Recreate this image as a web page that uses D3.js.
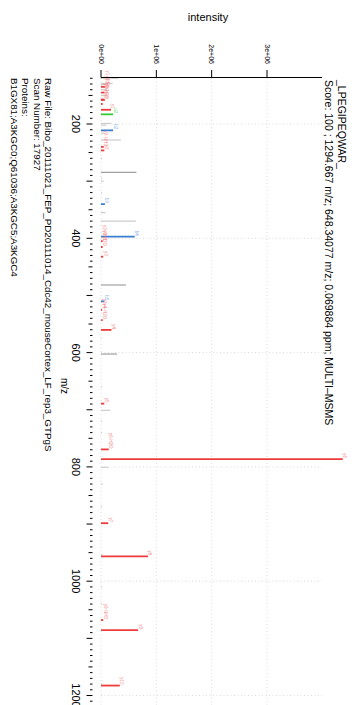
<!DOCTYPE html>
<html><head><meta charset="utf-8">
<script src="https://cdn.jsdelivr.net/npm/d3@7"></script>
<style>
html,body{margin:0;padding:0;background:#fff;}
svg{display:block;font-family:"Liberation Sans",Arial,Helvetica,sans-serif;}
</style></head>
<body>
<svg id="chart" width="357" height="705"></svg>
<script>
// ---- data ----
const titleLines = ["_LPEGIPEQWAR_", "Score: 100 ; 1294.667 m/z; 648.34077 m/z; 0.069884 ppm; MULTI\u2013MSMS"];
const infoLines = ["Raw File: Bibo_20111021_FEP_PD20111014_Cdc42_mouseCortex_LF_rep3_GTPgS", "Scan Number: 17927", "Proteins:", "B1GX81;A3KGC0;Q61036;A3KGC5;A3KGC4"];
const mzTicks = [200, 400, 600, 800, 1000, 1200];
const intTicks = [0, 1e6, 2e6, 3e6];
const intTickLabels = ["0e+00", "1e+06", "2e+06", "3e+06"];
const peakMz = [120, 129, 131, 135, 140, 145, 150, 157, 158, 165, 175.1, 183.1, 199, 202, 211.1, 216, 228, 240, 246.2, 260, 284.5, 295, 300, 320, 340.2, 355, 370, 397.2, 405, 415.2, 432.2, 481.7, 510.3, 525, 543.3, 560.3, 575, 602.5, 660, 689.3, 701, 720, 740, 769.4, 786.4, 800.7, 830, 870, 898.5, 954, 956.5, 1010, 1040, 1068, 1085.5, 1180, 1182.6];
const peakInt = [0.31, 0.21, 0.12, 0.08, 0.10, 0.06, 0.09, 0.05, 0.07, 0.03, 0.18, 0.22, 0.19, 0.10, 0.22, 0.05, 0.36, 0.05, 0.06, 0.02, 0.64, 0.02, 0.05, 0.02, 0.07, 0.08, 0.63, 0.61, 0.03, 0.03, 0.04, 0.45, 0.06, 0.02, 0.03, 0.19, 0.01, 0.29, 0.02, 0.06, 0.17, 0.02, 0.02, 0.14, 4.37, 0.13, 0.03, 0.02, 0.13, 0.03, 0.85, 0.02, 0.02, 0.04, 0.67, 0.02, 0.34].map(v => v * 1e6);
const peakType = ["lg","lg","lg","r","lg","r","lg","r","r","r","r","g","lg","lg","b","lg","lg","r","r","lg","dg","lg","lg","lg","b","lg","lg","b","r","r","r","dg","b","r","r","r","lg","dg","lg","r","lg","lg","lg","r","r","lg","lg","lg","r","lg","r","lg","lg","r","r","lg","r"];
const peakLabel = ["","","","y1-NH3","","y1-H2O","","y1-NH3","y1-H2O","","y1","a2","","","b2","","","y2-NH3","y2","","","","","","b3","","","b4","y3-NH3","y3-H2O","y3","","b5","y9++","y4-H2O","y4","","","","y5","","","","y6-H2O","y6","","","","y7","","y8","","","y9-NH3","y9","","y10"];

// ---- styles ----
const barColor = {lg:"#cccccc", dg:"#a0a0a0", r:"#ee3b3b", b:"#3a7fd0", g:"#33cc33"};
const labColor = {r:"#f58a8a", b:"#8ab8ec", g:"#88e088"};

const svg = d3.select("#chart");
const y = d3.scaleLinear().domain([200, 1200]).range([124, 695.5]);
const x = d3.scaleLinear().domain([0, 3e6]).range([101, 267]);
const rot = (px, py) => `translate(${px},${py}) rotate(90)`;

// grid
const grid = svg.append("g").attr("stroke", "#d0d0d0").attr("stroke-width", 0.8).attr("stroke-dasharray", "1,2.5");
grid.selectAll("line.v").data(intTicks).join("line")
  .attr("x1", d => x(d)).attr("x2", d => x(d)).attr("y1", 78).attr("y2", 705);
grid.selectAll("line.h").data(mzTicks).join("line")
  .attr("x1", x(0)).attr("x2", 322).attr("y1", d => y(d)).attr("y2", d => y(d));

// peaks
const data = peakMz.map((m, i) => ({m, v: peakInt[i], t: peakType[i], l: peakLabel[i]}));
svg.append("g").selectAll("line").data(data).join("line")
  .attr("x1", x(0)).attr("x2", d => x(d.v))
  .attr("y1", d => y(d.m)).attr("y2", d => y(d.m))
  .attr("stroke", d => barColor[d.t]).attr("stroke-width", d => d.t === "lg" || d.t === "dg" ? 1.2 : 1.8);
svg.append("g").selectAll("text").data(data.filter(d => d.l)).join("text")
  .attr("transform", d => rot(x(d.v), y(d.m) - 1))
  .attr("text-anchor", "end").attr("dy", "-0.1em")
  .attr("font-size", 4.5).attr("fill", d => labColor[d.t])
  .text(d => d.l);

// intensity axis (top)
const ax = svg.append("g");
ax.append("line").attr("x1", x(0)).attr("x2", 322).attr("y1", 77.5).attr("y2", 77.5).attr("stroke", "#000").attr("stroke-width", 1);
ax.selectAll("line.t").data(intTicks).join("line")
  .attr("x1", d => x(d)).attr("x2", d => x(d)).attr("y1", 77.5).attr("y2", 70).attr("stroke", "#000");
ax.selectAll("text").data(intTicks).join("text")
  .attr("transform", d => rot(x(d), 64)).attr("text-anchor", "end").attr("dy", "0.35em")
  .attr("font-size", 7).text((d, i) => intTickLabels[i]);
svg.append("text").attr("x", 208).attr("y", 21).attr("text-anchor", "middle").attr("font-size", 11).text("intensity");

// m/z axis (left)
const minor = d3.range(120, 1221, 10);
const ay = svg.append("g");
ay.append("line").attr("x1", 92.5).attr("x2", 92.5).attr("y1", y(120)).attr("y2", 705).attr("stroke", "#000").attr("stroke-width", 2);
ay.selectAll("line").data(minor).join("line")
  .attr("x1", d => d % 100 === 0 ? 86.5 : d % 50 === 0 ? 88.5 : 90).attr("x2", 92.5)
  .attr("y1", d => y(d)).attr("y2", d => y(d)).attr("stroke", "#000").attr("stroke-width", 1);
ay.selectAll("text").data(mzTicks).join("text")
  .attr("transform", d => rot(72, y(d))).attr("text-anchor", "middle")
  .attr("font-size", 11).text(d => d);
svg.append("text").attr("transform", rot(61, 386)).attr("text-anchor", "middle").attr("font-size", 10).text("m/z");

// info text (left)
const infoX = [45, 33.5, 22, 10.5];
svg.append("g").selectAll("text").data(infoLines).join("text")
  .attr("transform", (d, i) => rot(infoX[i], 78)).attr("font-size", 9.8).text(d => d);

// title (right)
const titleX = [337.5, 325];
svg.append("g").selectAll("text").data(titleLines).join("text")
  .attr("transform", (d, i) => rot(titleX[i], 80)).attr("font-size", 10.5).text(d => d);
</script>
</body></html>
